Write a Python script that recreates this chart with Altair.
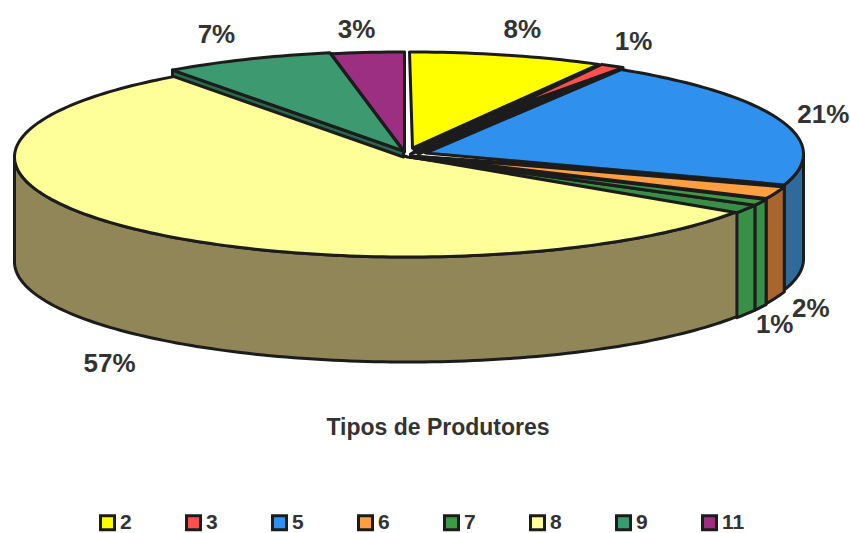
import math
import altair as alt

# Producer types and their share of the total, in percent
categories = ["2", "3", "5", "6", "7", "8", "9", "11"]
shares = [8, 1, 21, 2, 1, 57, 7, 3]
labels = ["8%", "1%", "21%", "2%", "1%", "57%", "7%", "3%"]
top_colors = ["#ffff00", "#ff5050", "#2f90ee", "#ff9f40", "#3f9a45", "#ffff99", "#3d9a70", "#9c2f82"]
wall_colors = {"5": "#2f6a9c", "6": "#a8662e", "7": "#3a8f48", "8": "#908657"}
cut_colors = {"7": "#3a8f48", "9": "#2a6a50"}
EDGE = "#1c1c1c"

# Disc geometry, in pixels
CX, CY, RX, RY, DEPTH = 407.5, 157.0, 393.0, 100.0, 105.0
# Small per-slice displacement of the exploded slices, in pixels
explode = {"2": (2, -5), "3": (5, -5), "5": (3, -3), "6": (3, -1), "7": (3, 0), "8": (0, 0), "9": (-4, -6), "11": (-3, -5)}
# Apexes pulled back from the centre, leaving the heavy dark seams around it
apex_shift = {"2": (3, -4), "3": (95, -43), "5": (15, -1)}
# Label displacement from the middle of each slice's rim, in pixels
label_offsets = [(17, -30), (26, -29), (46, -8), (38, 115), (17, 123), (-38, 132), (-35, -30), (-14, -27)]
CUT_WIDTH = 1.4  # angular width of the cut face of slice 7, in percent


def rim(pct, dx=0.0, dy=0.0, drop=0.0):
    """Point on the rim at a cumulative percentage, in disc units (y up)."""
    t = pct / 100 * 2 * math.pi
    return [(RX * math.sin(t) + dx) / RX, (RY * math.cos(t) - dy - drop) / RX]


def arc(a, b, **kw):
    n = max(2, int(abs(b - a) * 3))
    return [rim(a + (b - a) * i / n, **kw) for i in range(n + 1)]


def centre(dx, dy):
    return [dx / RX, -dy / RX]


def feature(cat, ring):
    return {"type": "Feature", "properties": {"cat": cat},
            "geometry": {"type": "Polygon", "coordinates": [ring + [ring[0]]]}}


spans, total = {}, 0.0
for c, s in zip(categories, shares):
    spans[c] = (total, total + s)
    total += s

# Polygons are listed in the order they are painted
features = []
for c in ["5", "6", "7", "8"]:
    a, b = spans[c]
    a, b = max(a, 25.0), min(b, 75.0)
    dx, dy = explode[c]
    front = arc(a, b, dx=dx, dy=dy)
    back = arc(b, a, dx=dx, dy=dy, drop=DEPTH)
    features.append(feature("wall " + c, front + back))

# Cut face of slice 7, seen beside the start of slice 8
a7 = spans["7"][1]
a8 = a7 + CUT_WIDTH
dx7, dy7 = explode["7"]
features.append(feature("cut 7", arc(a7, a8, dx=dx7, dy=dy7) + arc(a8, a7, dx=dx7, dy=dy7, drop=DEPTH)))


def top(c):
    a, b = spans[c]
    dx, dy = explode[c]
    sx, sy = apex_shift.get(c, (0, 0))
    return feature(c, [centre(dx + sx, dy + sy)] + arc(a, b, dx=dx, dy=dy))


features.append(top("8"))
features.append(feature("cut 7", [centre(dx7, dy7)] + arc(a7, a8, dx=dx7, dy=dy7)))

# Cut face of slice 9, along its leading edge
a9 = spans["9"][0]
dx9, dy9 = explode["9"]
features.append(feature("cut 9", [centre(dx9, dy9), rim(a9, dx=dx9, dy=dy9),
                                  rim(a9, dx=dx9, dy=dy9, drop=6), centre(dx9, dy9 + 6)]))
features.append(top("7"))
features.append(top("6"))

# Dark seams on both sides of slice 5
s5a, s5b = spans["5"]
dx5, dy5 = explode["5"]
features.append(feature("seam", [centre(dx5, dy5)] + arc(s5a - 2.5, s5a + 0.2, dx=dx5, dy=dy5)))
features.append(feature("seam", [centre(5, -9), centre(dx5 + 8, dy5)] + arc(s5a, s5a - 3, dx=dx5, dy=dy5)))
features.append(feature("seam", [centre(dx5, dy5 + 2)] + arc(s5b - 0.6, s5b, dx=dx5, dy=dy5)))
for c in ["5", "3", "2", "11", "9"]:
    features.append(top(c))

# Percent labels anchored on the rim of their slices
label_rows = []
for c, text, (ox, oy) in zip(categories, labels, label_offsets):
    a, b = spans[c]
    lon, lat = rim((a + b) / 2, dx=ox, dy=oy)
    label_rows.append({"lon": lon, "lat": lat, "text": text})

domain = categories + ["wall " + c for c in wall_colors] + ["cut " + c for c in cut_colors] + ["seam"]
palette = top_colors + list(wall_colors.values()) + list(cut_colors.values()) + [EDGE]

projection = alt.Projection(type="identity", reflectY=True, scale=RX, translate=[CX, CY])

pie = (
    alt.Chart(alt.Data(values=features))
    .mark_geoshape(stroke=EDGE, strokeWidth=3, strokeJoin="round")
    .encode(
        color=alt.Color(
            "properties.cat:N",
            scale=alt.Scale(domain=domain, range=palette),
            legend=alt.Legend(
                values=categories,
                title=None,
                orient="none",
                legendX=97,
                legendY=512,
                direction="horizontal",
                columns=8,
                columnPadding=48,
                symbolType="square",
                symbolSize=196,
                symbolStrokeColor=EDGE,
                symbolStrokeWidth=3,
                symbolOpacity=1,
                labelFont="Liberation Sans",
                labelFontWeight="bold",
                labelFontSize=21,
                labelColor="#333333",
                labelOffset=2,
            ),
        )
    )
)

percent_text = (
    alt.Chart(alt.Data(values=label_rows))
    .mark_text(font="Liberation Sans", fontWeight="bold", fontSize=26, color="#333333")
    .encode(longitude="lon:Q", latitude="lat:Q", text="text:N")
)

caption = (
    alt.Chart(alt.Data(values=[{"text": "Tipos de Produtores"}]))
    .mark_text(font="Liberation Sans", fontWeight="bold", fontSize=23, color="#333333")
    .encode(x=alt.value(438), y=alt.value(428), text="text:N")
)

chart = (
    alt.layer(pie, percent_text, caption)
    .properties(width=850, height=533, padding=0, background="white",
                autosize=alt.AutoSizeParams(type="none"), projection=projection)
    .configure_view(strokeWidth=0, stroke=None)
)

chart.save("out.html", embed_options={"renderer": "svg", "actions": False})
